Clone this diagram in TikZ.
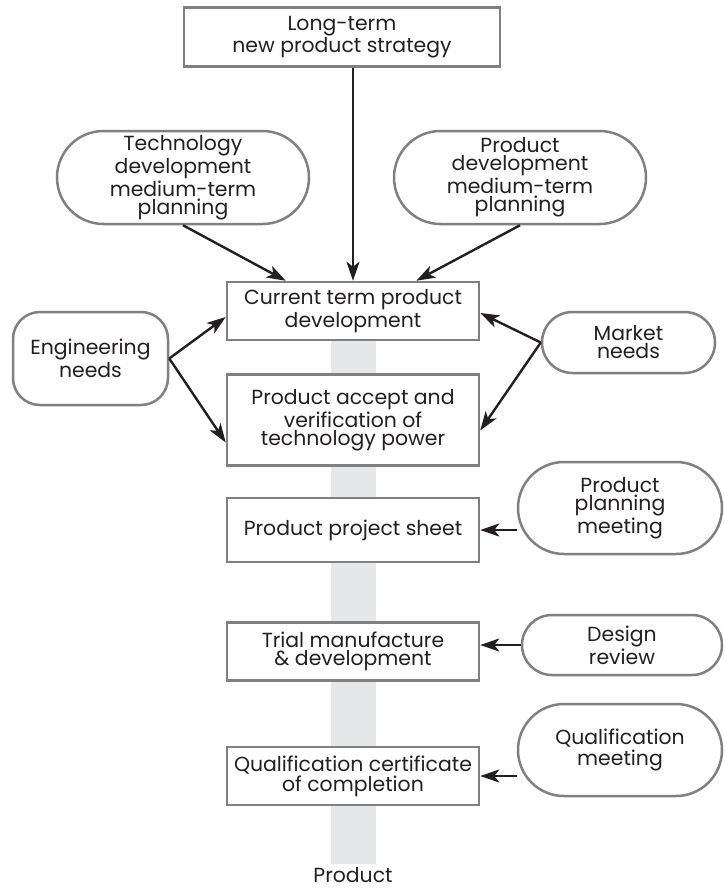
\documentclass[tikz,border=0pt]{standalone}
\usepackage{fontspec}
\setmainfont{Poppins}
\usetikzlibrary{arrows.meta, positioning, shapes.misc, backgrounds}
\definecolor{edge}{HTML}{808080}
\definecolor{ink}{HTML}{231F20}
\definecolor{bargray}{HTML}{E6E7E8}

\begin{document}
\begin{tikzpicture}[x=0.5pt, y=-0.5pt, node distance=16pt,
  font=\fontsize{10.2}{9}\selectfont, text=ink,
  box/.style={draw=edge, line width=1.25pt, fill=white, rectangle, align=center,
    inner sep=0pt, minimum width=126pt, minimum height=29pt},
  pill/.style={draw=edge, line width=1.25pt, fill=white, rounded rectangle,
    align=center, inner sep=0pt},
  arr/.style={draw=ink, line width=1.2pt, -{Stealth[length=9.5pt, width=6.5pt, inset=2.5pt]}}]
  \useasboundingbox (0,0) rectangle (724,888);

  \node (cur) [box] at (353,311) {Current term product\\ development};
  \node (acc) [box, below=of cur, minimum height=45.5pt] {Product accept and\\ verification of\\ technology power};
  \node (sheet) [box, below=15pt of acc, minimum height=32pt] {Product project sheet};
  \node (trial) [box, below=29pt of sheet] {Trial manufacture\\ \& development};
  \node (qual) [box, below=32pt of trial] {Qualification certificate\\ of completion};
  \node (lt) [box, above=106.5pt of cur, xshift=-5.5pt, minimum width=158pt, minimum height=29.5pt] {Long-term\\ new product strategy};
  \node (out) [anchor=base] at (353,882) {Product};

  \node (tech) [pill, minimum width=126pt, minimum height=46.5pt] at (183,177.5) {Technology\\ development\\ medium-term\\ planning};
  \node (pdev) [pill, minimum width=126pt, minimum height=46.5pt] at (520,177.5) {Product\\ development\\ medium-term\\ planning};
  \node (eng) [box, rounded corners=13.5pt, minimum width=77.5pt, minimum height=46.5pt] at (90.5,358.5) {Engineering\\ needs};
  \node (mkt) [pill, minimum width=86.5pt, minimum height=30.5pt] at (628.5,342.5) {Market\\ needs};
  \node (plan) [pill, minimum width=102pt, minimum height=46pt] at (620,508) {Product\\ planning\\ meeting};
  \node (rev) [pill, minimum width=100pt, minimum height=30pt] at (622,645) {Design\\ review};
  \node (qmeet) [pill, minimum width=102pt, minimum height=46pt] at (620,750) {Qualification\\ meeting};

  \begin{scope}[on background layer]
    \fill[bargray] ([xshift=-11.25pt]cur.south) rectangle ([xshift=11.25pt, yshift=-29pt]qual.south);
  \end{scope}

  \draw[arr] (lt.south -| cur.north) -- (cur.north);
  \draw[arr] (tech.south) -- ([xshift=30pt]cur.north west);
  \draw[arr] (pdev.south) -- ([xshift=-32pt]cur.north east);
  \draw[arr] (eng.east) -- ([yshift=-3pt]cur.west);
  \draw[arr] (eng.east) -- ([yshift=-11.25pt]acc.west);
  \draw[arr] (mkt.west) -- ([yshift=-1pt]cur.east);
  \draw[arr] (mkt.west) -- ([yshift=-5.25pt]acc.east);
  \draw[arr] (plan.west |- sheet.east) -- (sheet.east);
  \draw[arr] (rev.west) -- (rev.west -| trial.east);
  \draw[arr] (qmeet.west |- qual.east) -- (qual.east);
\end{tikzpicture}
\end{document}
